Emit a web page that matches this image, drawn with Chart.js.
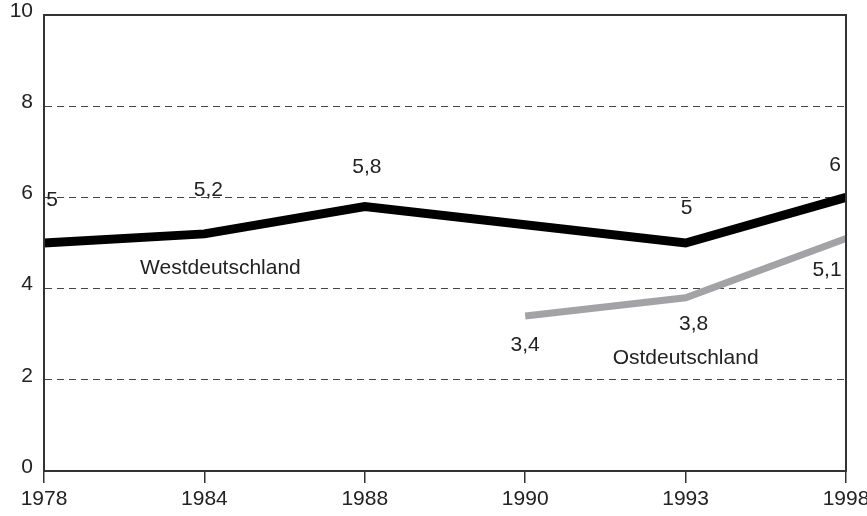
<!DOCTYPE html>
<html><head><meta charset="utf-8">
<script src="https://cdn.jsdelivr.net/npm/chart.js@4/dist/chart.umd.min.js"></script>
<style>html,body{margin:0;padding:0;background:#fff}#wrap{width:867px;height:516px}</style>
</head><body><div id="wrap"><canvas id="c" width="867" height="516"></canvas></div>
<script>
const categories = ['1978', '1984', '1988', '1990', '1993', '1998'];
const westValues = [5.0, 5.2, 5.8, null, 5.0, 6.0];
const ostValues = [null, null, null, 3.4, 3.8, 5.1];
const westLabels = ['5', '5,2', '5,8', null, '5', '6'];
const ostLabels = [null, null, null, '3,4', '3,8', '5,1'];
const yTicks = [0, 2, 4, 6, 8, 10];
const FONT = '"Liberation Sans", Arial, sans-serif';
const FS = 21;

const labelOffsets = {
  west: [[8,-37],[4,-38],[2,-34],null,[1,-29],[-11,-26]],
  ost: [null,null,null,[0,35],[8,32],[-19,38]]
};

const annot = {
  id: 'annot',
  afterDraw(chart) {
    const ctx = chart.ctx, a = chart.chartArea;
    const xs = chart.scales.x, ys = chart.scales.y;
    ctx.save();
    ctx.strokeStyle = '#333';
    ctx.lineWidth = 2;
    ctx.strokeRect(a.left, a.top, a.right - a.left, a.bottom - a.top);
    ctx.fillStyle = '#222';
    ctx.font = FS + 'px ' + FONT;
    ctx.textAlign = 'center';
    ctx.textBaseline = 'alphabetic';
    const draw = (vals, labs, offs) => {
      vals.forEach((v, i) => {
        if (v === null || !labs[i]) return;
        const px = xs.getPixelForValue(i), py = ys.getPixelForValue(v);
        ctx.fillText(labs[i], px + offs[i][0], py + offs[i][1]);
      });
    };
    draw(westValues, westLabels, labelOffsets.west);
    draw(ostValues, ostLabels, labelOffsets.ost);
    ctx.fillText('Westdeutschland', xs.getPixelForValue(1.1), ys.getPixelForValue(4.32));
    ctx.fillText('Ostdeutschland', xs.getPixelForValue(4.0), ys.getPixelForValue(2.35));
    ctx.restore();
  }
};

new Chart(document.getElementById('c'), {
  type: 'line',
  data: {
    labels: categories,
    datasets: [
      { label: 'Westdeutschland', data: westValues, borderColor: '#000', borderWidth: 9, pointRadius: 0, spanGaps: true, tension: 0, borderJoinStyle: 'miter', borderCapStyle: 'butt' },
      { label: 'Ostdeutschland', data: ostValues, borderColor: '#a3a3a6', borderWidth: 7, pointRadius: 0, spanGaps: true, tension: 0, borderJoinStyle: 'miter', borderCapStyle: 'butt' }
    ]
  },
  options: {
    responsive: false,
    animation: false,
    events: [],
    layout: { padding: { top: 15, right: 21, left: 0, bottom: 0 } },
    plugins: { legend: { display: false }, tooltip: { enabled: false } },
    scales: {
      x: {
        type: 'category',
        offset: false,
        grid: { display: true, drawOnChartArea: false, drawTicks: true, tickLength: 12, color: '#333', lineWidth: 1.5 },
        border: { display: true, color: '#333', width: 2 },
        ticks: { color: '#222', font: { family: FONT, size: FS }, padding: 4, maxRotation: 0, autoSkip: false },
        afterFit(s) { s.height = 45; s.paddingLeft = 0; s.paddingRight = 0; }
      },
      y: {
        min: 0, max: 10,
        afterBuildTicks(s) { s.ticks = yTicks.map(v => ({ value: v })); },
        grid: { color: '#444', lineWidth: 1, drawTicks: false, tickLength: 0 },
        border: { display: true, color: '#333', width: 2, dash: [7, 5] },
        ticks: { color: '#222', font: { family: FONT, size: FS }, padding: 11, labelOffset: -4 },
        afterFit(s) { s.width = 44; s.paddingTop = 0; s.paddingBottom = 0; }
      }
    }
  },
  plugins: [annot]
});
</script>
</body></html>
